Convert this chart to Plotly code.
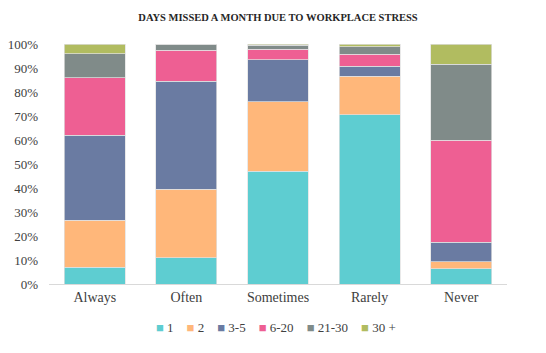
import plotly.graph_objects as go

categories = ["Always", "Often", "Sometimes", "Rarely", "Never"]
series_names = ["1", "2", "3-5", "6-20", "21-30", "30 +"]
v_1 = [7.0, 11.0, 47.0, 70.5, 6.3]
v_2 = [19.5, 28.5, 29.0, 16.0, 3.0]
v_3_5 = [35.5, 45.0, 17.5, 4.2, 8.2]
v_6_20 = [24.0, 13.0, 4.3, 5.0, 42.5]
v_21_30 = [10.0, 2.3, 1.7, 3.2, 31.5]
v_30p = [4.0, 0.2, 0.5, 1.1, 8.5]
colors = ["#5ECDD1", "#FFB77A", "#6A7BA2", "#EE5F93", "#808B89", "#B1BC60"]
series_values = [v_1, v_2, v_3_5, v_6_20, v_21_30, v_30p]
y_ticks = [0, 10, 20, 30, 40, 50, 60, 70, 80, 90, 100]
y_tick_labels = ["0%", "10%", "20%", "30%", "40%", "50%", "60%", "70%", "80%", "90%", "100%"]

FONT = "Liberation Serif, Times New Roman, serif"
fig = go.Figure()
for name, vals, col in zip(series_names, series_values, colors):
    fig.add_trace(go.Bar(
        x=categories, y=vals, name=name, showlegend=False,
        marker=dict(color=col, line=dict(color="rgba(225,225,225,0.9)", width=0.8)),
    ))

# compact legend as text (matches the reference's tight spacing)
sep = "&nbsp;&nbsp;&nbsp;&nbsp;"
legend_text = sep.join(
    f"<span style='color:{c}'>■</span>&nbsp;{n}" for n, c in zip(series_names, colors)
)
fig.add_annotation(text=legend_text, xref="paper", yref="paper", x=0.495, y=-0.18,
                   xanchor="center", yanchor="middle", showarrow=False,
                   font=dict(family=FONT, size=13, color="#404040"))

fig.update_layout(
    barmode="stack",
    bargap=0.335,
    width=546, height=353,
    margin=dict(l=49, r=39, t=44, b=69, autoexpand=False),
    paper_bgcolor="white", plot_bgcolor="white",
    font=dict(family=FONT, color="#404040", size=13),
    title=dict(text="<b>DAYS MISSED A MONTH DUE TO WORKPLACE STRESS</b>",
               x=0.5, xref="paper", y=0.95, yanchor="middle",
               font=dict(family=FONT, size=10.5, color="#262626")),
    showlegend=False,
)
fig.update_xaxes(showline=True, linecolor="#D9D9D9", linewidth=1.2, ticks="",
                 tickfont=dict(family=FONT, size=14, color="#404040"), showgrid=False)
fig.update_yaxes(range=[0, 100], tickmode="array", tickvals=y_ticks, ticktext=y_tick_labels,
                 showgrid=False, zeroline=False, showline=False, ticks="",
                 ticklabelstandoff=10,
                 tickfont=dict(family=FONT, size=13, color="#404040"))

fig.write_html("out.html")
